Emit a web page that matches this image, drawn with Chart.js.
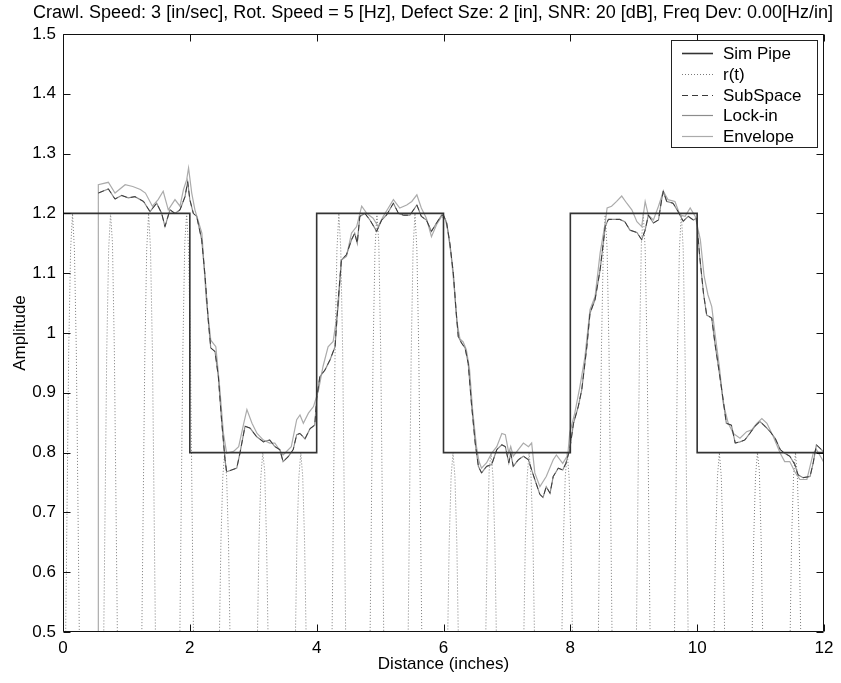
<!DOCTYPE html>
<html>
<head>
<meta charset="utf-8">
<title>Sim Pipe - amplitude vs distance</title>
<script src="https://cdn.jsdelivr.net/npm/chart.js@4.4.1/dist/chart.umd.min.js"></script>
<style>
    html, body { margin: 0; padding: 0; background: #fff; }
    #wrap { width: 841px; height: 683px; }
</style>
</head>
<body>
<div id="wrap"><canvas id="chart" width="841" height="683"></canvas></div>
<script>
const titleText = 'Crawl. Speed: 3 [in/sec], Rot. Speed = 5 [Hz], Defect Sze: 2 [in], SNR: 20 [dB], Freq Dev: 0.00[Hz/in]';
const xTitle = 'Distance (inches)';
const yTitle = 'Amplitude';
const xTicks = [0, 2, 4, 6, 8, 10, 12];
const yTicks = [0.5, 0.6, 0.7, 0.8, 0.9, 1, 1.1, 1.2, 1.3, 1.4, 1.5];

// simulated pipe wall profile (step)
const simX = [0, 2, 2, 4, 4, 6, 6, 8, 8, 10, 10, 12];
const simY = [1.2, 1.2, 0.8, 0.8, 1.2, 1.2, 0.8, 0.8, 1.2, 1.2, 0.8, 0.8];

// r(t): only the tops of the carrier show above 0.5
const rtX = [
    0.03, 0.09, 0.12, 0.15, 0.18, 0.21, 0.27,
    0.63, 0.69, 0.72, 0.75, 0.78, 0.81, 0.87,
    1.23, 1.29, 1.32, 1.35, 1.38, 1.41, 1.47,
    1.83, 1.89, 1.92, 1.95, 1.98, 2.01, 2.07,
    2.43, 2.49, 2.52, 2.55, 2.58, 2.61, 2.67,
    3.03, 3.09, 3.12, 3.15, 3.18, 3.21, 3.27,
    3.63, 3.69, 3.72, 3.75, 3.78, 3.81, 3.87,
    4.23, 4.29, 4.32, 4.35, 4.38, 4.41, 4.47,
    4.83, 4.89, 4.92, 4.95, 4.98, 5.01, 5.07,
    5.43, 5.49, 5.52, 5.55, 5.58, 5.61, 5.67,
    6.03, 6.09, 6.12, 6.15, 6.18, 6.21, 6.27,
    6.63, 6.69, 6.72, 6.75, 6.78, 6.81, 6.87,
    7.23, 7.29, 7.32, 7.35, 7.38, 7.41, 7.47,
    7.83, 7.89, 7.92, 7.95, 7.98, 8.01, 8.07,
    8.43, 8.49, 8.52, 8.55, 8.58, 8.61, 8.67,
    9.03, 9.09, 9.12, 9.15, 9.18, 9.21, 9.27,
    9.63, 9.69, 9.72, 9.75, 9.78, 9.81, 9.87,
    10.23, 10.29, 10.32, 10.35, 10.38, 10.41, 10.47,
    10.83, 10.89, 10.92, 10.95, 10.98, 11.01, 11.07,
    11.43, 11.49, 11.52, 11.55, 11.58, 11.61, 11.67
];
const rtY = [
    0.37, 0.97, 1.14, 1.2, 1.14, 0.97, 0.37,
    0.37, 0.97, 1.14, 1.2, 1.15, 0.97, 0.37,
    0.37, 0.96, 1.14, 1.2, 1.14, 0.97, 0.37,
    0.37, 0.97, 1.15, 1.2, 1.14, 0.96, 0.37,
    0.25, 0.65, 0.76, 0.8, 0.76, 0.65, 0.25,
    0.25, 0.65, 0.76, 0.8, 0.77, 0.65, 0.25,
    0.25, 0.66, 0.76, 0.8, 0.76, 0.65, 0.25,
    0.37, 0.97, 1.14, 1.2, 1.14, 0.97, 0.37,
    0.37, 0.97, 1.14, 1.2, 1.15, 0.97, 0.37,
    0.37, 0.96, 1.14, 1.2, 1.14, 0.97, 0.37,
    0.25, 0.65, 0.76, 0.8, 0.76, 0.65, 0.25,
    0.25, 0.65, 0.77, 0.8, 0.76, 0.65, 0.25,
    0.25, 0.65, 0.76, 0.8, 0.76, 0.66, 0.25,
    0.25, 0.65, 0.76, 0.8, 0.76, 0.65, 0.25,
    0.37, 0.97, 1.14, 1.2, 1.14, 0.97, 0.37,
    0.37, 0.97, 1.15, 1.2, 1.14, 0.97, 0.37,
    0.37, 0.97, 1.14, 1.2, 1.14, 0.96, 0.37,
    0.25, 0.65, 0.76, 0.8, 0.76, 0.65, 0.25,
    0.25, 0.65, 0.76, 0.8, 0.77, 0.65, 0.25,
    0.25, 0.66, 0.76, 0.8, 0.76, 0.65, 0.25
];

// SubSpace estimate (darker trace)
const subspaceX = [
    0.557, 0.715, 0.82, 0.925, 1.03, 1.135, 1.27, 1.372, 1.477, 1.556,
    1.608, 1.687, 1.766, 1.845, 1.924, 1.966, 2.0, 2.055, 2.108, 2.187,
    2.24, 2.29, 2.33, 2.397, 2.45, 2.5, 2.555, 2.58, 2.66, 2.74,
    2.79, 2.87, 2.95, 3.05, 3.16, 3.26, 3.34, 3.42, 3.47, 3.55,
    3.63, 3.685, 3.737, 3.816, 3.895, 3.97, 4.0, 4.05, 4.13, 4.21,
    4.29, 4.34, 4.39, 4.47, 4.55, 4.6, 4.64, 4.68, 4.76, 4.84,
    4.946, 5.025, 5.1, 5.21, 5.29, 5.37, 5.47, 5.58, 5.65, 5.73,
    5.81, 5.89, 5.97, 6.0, 6.05, 6.1, 6.155, 6.197, 6.233, 6.286,
    6.34, 6.39, 6.44, 6.5, 6.55, 6.6, 6.68, 6.76, 6.84, 6.92,
    6.975, 7.03, 7.06, 7.1, 7.18, 7.26, 7.34, 7.39, 7.44, 7.52,
    7.57, 7.62, 7.68, 7.73, 7.81, 7.88, 7.93, 7.99, 8.05, 8.125,
    8.18, 8.26, 8.31, 8.39, 8.47, 8.55, 8.6, 8.68, 8.78, 8.86,
    8.94, 9.05, 9.125, 9.18, 9.23, 9.31, 9.39, 9.44, 9.466, 9.52,
    9.62, 9.7, 9.78, 9.86, 9.94, 9.99, 10.04, 10.1, 10.15, 10.23,
    10.28, 10.35, 10.41, 10.46, 10.54, 10.6, 10.675, 10.75, 10.83, 10.91,
    10.99, 11.07, 11.15, 11.23, 11.31, 11.38, 11.46, 11.54, 11.59, 11.67,
    11.78, 11.83, 11.88, 11.96, 12.0
];
const subspaceY = [
    1.234, 1.241, 1.224, 1.230, 1.226, 1.228, 1.220, 1.203, 1.217, 1.200,
    1.178, 1.206, 1.200, 1.206, 1.228, 1.253, 1.223, 1.200, 1.195, 1.156,
    1.095, 1.022, 0.975, 0.969, 0.927, 0.855, 0.788, 0.768, 0.771, 0.774,
    0.799, 0.844, 0.841, 0.827, 0.818, 0.821, 0.810, 0.805, 0.785, 0.793,
    0.805, 0.830, 0.832, 0.823, 0.840, 0.846, 0.890, 0.927, 0.938, 0.955,
    0.977, 1.055, 1.122, 1.131, 1.156, 1.167, 1.150, 1.195, 1.200, 1.189,
    1.170, 1.189, 1.197, 1.217, 1.200, 1.197, 1.197, 1.214, 1.195, 1.189,
    1.170, 1.184, 1.197, 1.197, 1.184, 1.150, 1.100, 1.039, 0.994, 0.983,
    0.975, 0.949, 0.883, 0.816, 0.777, 0.766, 0.777, 0.780, 0.805, 0.813,
    0.810, 0.783, 0.799, 0.777, 0.788, 0.794, 0.788, 0.771, 0.755, 0.730,
    0.725, 0.743, 0.732, 0.760, 0.774, 0.771, 0.782, 0.805, 0.849, 0.877,
    0.905, 0.977, 1.033, 1.056, 1.106, 1.178, 1.190, 1.190, 1.190, 1.186,
    1.172, 1.168, 1.156, 1.172, 1.197, 1.184, 1.189, 1.223, 1.237, 1.220,
    1.217, 1.203, 1.187, 1.195, 1.189, 1.192, 1.128, 1.066, 1.030, 1.025,
    0.983, 0.933, 0.888, 0.849, 0.846, 0.816, 0.818, 0.821, 0.832, 0.844,
    0.852, 0.844, 0.835, 0.824, 0.805, 0.799, 0.794, 0.780, 0.763, 0.758,
    0.760, 0.783, 0.813, 0.805, 0.800
];

// Envelope estimate (lighter trace), starts with the jump up at ~0.56 in
const envelopeX = [
    0.557, 0.557, 0.715, 0.82, 0.98, 1.1, 1.22, 1.3, 1.41, 1.5,
    1.58, 1.66, 1.766, 1.845, 1.9, 1.95, 1.98, 2.03, 2.08, 2.19,
    2.26, 2.33, 2.41, 2.47, 2.53, 2.58, 2.69, 2.77, 2.85, 2.9,
    2.98, 3.06, 3.16, 3.26, 3.34, 3.47, 3.6, 3.685, 3.737, 3.79,
    3.87, 3.95, 4.03, 4.1, 4.18, 4.26, 4.34, 4.39, 4.47, 4.55,
    4.63, 4.71, 4.79, 4.89, 4.97, 5.05, 5.13, 5.21, 5.31, 5.42,
    5.5, 5.58, 5.65, 5.73, 5.81, 5.89, 5.97, 6.03, 6.07, 6.12,
    6.17, 6.21, 6.26, 6.31, 6.36, 6.41, 6.46, 6.52, 6.56, 6.6,
    6.68, 6.76, 6.84, 6.92, 6.975, 7.03, 7.06, 7.1, 7.18, 7.26,
    7.34, 7.39, 7.44, 7.52, 7.62, 7.73, 7.78, 7.88, 7.96, 7.99,
    8.07, 8.15, 8.23, 8.31, 8.39, 8.47, 8.55, 8.58, 8.65, 8.73,
    8.81, 8.89, 8.97, 9.05, 9.125, 9.18, 9.23, 9.31, 9.39, 9.466,
    9.54, 9.65, 9.73, 9.81, 9.89, 9.97, 10.05, 10.11, 10.17, 10.23,
    10.28, 10.35, 10.41, 10.49, 10.57, 10.675, 10.78, 10.86, 10.94, 11.02,
    11.1, 11.2, 11.31, 11.38, 11.46, 11.54, 11.62, 11.73, 11.83, 11.88,
    11.96, 12.0
];
const envelopeY = [
    0.0, 1.248, 1.252, 1.234, 1.248, 1.245, 1.240, 1.234, 1.212, 1.223,
    1.237, 1.206, 1.223, 1.212, 1.240, 1.256, 1.276, 1.234, 1.206, 1.167,
    1.055, 0.988, 0.977, 0.910, 0.832, 0.799, 0.802, 0.810, 0.849, 0.872,
    0.849, 0.832, 0.821, 0.816, 0.816, 0.796, 0.810, 0.855, 0.863, 0.849,
    0.866, 0.877, 0.905, 0.944, 0.977, 0.986, 1.044, 1.122, 1.128, 1.167,
    1.178, 1.212, 1.200, 1.192, 1.178, 1.195, 1.209, 1.223, 1.209, 1.214,
    1.220, 1.231, 1.209, 1.192, 1.161, 1.181, 1.195, 1.190, 1.170, 1.130,
    1.075, 1.020, 0.990, 0.985, 0.972, 0.940, 0.870, 0.810, 0.785, 0.774,
    0.783, 0.799, 0.810, 0.832, 0.830, 0.799, 0.810, 0.794, 0.805, 0.816,
    0.810, 0.816, 0.766, 0.743, 0.760, 0.788, 0.796, 0.782, 0.796, 0.833,
    0.866, 0.910, 0.960, 1.039, 1.061, 1.134, 1.184, 1.209, 1.212, 1.220,
    1.229, 1.217, 1.206, 1.186, 1.178, 1.220, 1.197, 1.189, 1.212, 1.237,
    1.223, 1.220, 1.197, 1.195, 1.209, 1.195, 1.156, 1.095, 1.064, 1.044,
    1.000, 0.944, 0.883, 0.849, 0.832, 0.824, 0.835, 0.838, 0.849, 0.857,
    0.849, 0.827, 0.799, 0.785, 0.785, 0.768, 0.755, 0.755, 0.799, 0.805,
    0.791, 0.783
];

const FONT = "'Liberation Sans', Arial, Helvetica, sans-serif";
const TICK_LEN = 7;

function toPoints(xs, ys) {
    return xs.map(function (x, i) {
        return { x: x, y: ys[i] };
    });
}

const titlePlugin = {
    id: 'plotTitle',
    afterDraw: function (chart) {
        const ctx = chart.ctx;
        ctx.save();
        ctx.fillStyle = '#000';
        ctx.font = '18px ' + FONT;
        ctx.textAlign = 'center';
        ctx.textBaseline = 'middle';
        ctx.fillText(titleText, 433, 13);
        ctx.restore();
    },
};

// Matlab style box with inward ticks on all four sides
const framePlugin = {
    id: 'frameBox',
    afterDatasetsDraw: function (chart) {
        const a = chart.chartArea;
        const ctx = chart.ctx;
        const xs = chart.scales.x;
        const ys = chart.scales.y;
        const l = Math.round(a.left) + 0.5;
        const r = Math.round(a.right) - 0.5;
        const t = Math.round(a.top) + 0.5;
        const b = Math.round(a.bottom) - 0.5;
        ctx.save();
        ctx.strokeStyle = '#111';
        ctx.lineWidth = 1;
        ctx.beginPath();
        ctx.rect(l, t, r - l, b - t);
        xTicks.forEach(function (v) {
            const px = Math.round(xs.getPixelForValue(v)) + 0.5;
            ctx.moveTo(px, b);
            ctx.lineTo(px, b - TICK_LEN);
            ctx.moveTo(px, t);
            ctx.lineTo(px, t + TICK_LEN);
        });
        yTicks.forEach(function (v) {
            const py = Math.round(ys.getPixelForValue(v)) + 0.5;
            ctx.moveTo(l, py);
            ctx.lineTo(l + TICK_LEN, py);
            ctx.moveTo(r, py);
            ctx.lineTo(r - TICK_LEN, py);
        });
        ctx.stroke();
        ctx.restore();
    },
};

const legendPlugin = {
    id: 'boxLegend',
    afterDraw: function (chart) {
        const ctx = chart.ctx;
        const box = { left: 671.5, top: 40.5, width: 146, height: 107 };
        const rowH = 20.8;
        ctx.save();
        ctx.fillStyle = '#fff';
        ctx.fillRect(box.left, box.top, box.width, box.height);
        ctx.strokeStyle = '#222';
        ctx.lineWidth = 1;
        ctx.strokeRect(box.left, box.top, box.width, box.height);
        ctx.font = '17px ' + FONT;
        ctx.textAlign = 'left';
        ctx.textBaseline = 'middle';
        chart.data.datasets.forEach(function (ds, i) {
            const y = Math.round(box.top + 12.5 + i * rowH) + 0.5;
            ctx.strokeStyle = ds.borderColor;
            ctx.lineWidth = ds.borderWidth;
            ctx.setLineDash(ds.borderDash || []);
            ctx.beginPath();
            ctx.moveTo(682, y);
            ctx.lineTo(713, y);
            ctx.stroke();
            ctx.setLineDash([]);
            ctx.fillStyle = '#000';
            ctx.fillText(ds.label, 723, y + 1);
        });
        ctx.restore();
    },
};

function buildChart() {
    const canvas = document.getElementById('chart');
    const lineDefaults = { pointRadius: 0, pointHoverRadius: 0, tension: 0, fill: false };

    return new Chart(canvas.getContext('2d'), {
        type: 'line',
        data: {
            datasets: [
                Object.assign({
                    label: 'Sim Pipe',
                    data: toPoints(simX, simY),
                    borderColor: '#333',
                    borderWidth: 1.6,
                    order: 1,
                }, lineDefaults),
                Object.assign({
                    label: 'r(t)',
                    data: toPoints(rtX, rtY),
                    borderColor: '#7a7a7a',
                    borderWidth: 1,
                    borderDash: [1, 2],
                    order: 4,
                }, lineDefaults),
                Object.assign({
                    label: 'SubSpace',
                    data: toPoints(subspaceX, subspaceY),
                    borderColor: '#3a3a3a',
                    borderWidth: 1,
                    borderDash: [6, 4],
                    order: 0,
                }, lineDefaults),
                // Lock-in sits right under the SubSpace trace at this scale
                Object.assign({
                    label: 'Lock-in',
                    data: toPoints(subspaceX, subspaceY),
                    borderColor: '#8c8c8c',
                    borderWidth: 1.2,
                    order: 2,
                }, lineDefaults),
                Object.assign({
                    label: 'Envelope',
                    data: toPoints(envelopeX, envelopeY),
                    borderColor: '#ababab',
                    borderWidth: 1.2,
                    order: 3,
                }, lineDefaults),
            ],
        },
        options: {
            responsive: false,
            animation: false,
            devicePixelRatio: 1,
            layout: { padding: { top: 34, right: 17, bottom: 0, left: 0 } },
            plugins: {
                legend: { display: false },
                tooltip: { enabled: false },
                title: { display: false },
            },
            scales: {
                x: {
                    type: 'linear',
                    min: 0,
                    max: 12,
                    afterBuildTicks: function (scale) {
                        scale.ticks = xTicks.map(function (v) {
                            return { value: v };
                        });
                    },
                    afterFit: function (scale) {
                        scale.height = 51;
                    },
                    grid: { display: false, drawTicks: false },
                    border: { display: false },
                    ticks: {
                        padding: 6,
                        color: '#000',
                        maxRotation: 0,
                        autoSkip: false,
                        font: { family: FONT, size: 17 },
                        callback: function (v) {
                            return String(v);
                        },
                    },
                    title: {
                        display: true,
                        text: xTitle,
                        color: '#000',
                        font: { family: FONT, size: 17 },
                        padding: { top: 0, bottom: 8 },
                    },
                },
                y: {
                    type: 'linear',
                    min: 0.5,
                    max: 1.5,
                    afterBuildTicks: function (scale) {
                        scale.ticks = yTicks.map(function (v) {
                            return { value: v };
                        });
                    },
                    afterFit: function (scale) {
                        scale.width = 63;
                    },
                    grid: { display: false, drawTicks: false },
                    border: { display: false },
                    ticks: {
                        padding: 7,
                        color: '#000',
                        autoSkip: false,
                        font: { family: FONT, size: 17 },
                        callback: function (v) {
                            return String(v);
                        },
                    },
                    title: {
                        display: true,
                        text: yTitle,
                        color: '#000',
                        font: { family: FONT, size: 17 },
                        padding: { top: 10, bottom: 0 },
                    },
                },
            },
        },
        plugins: [framePlugin, legendPlugin, titlePlugin],
    });
}

buildChart();
</script>
</body>
</html>
